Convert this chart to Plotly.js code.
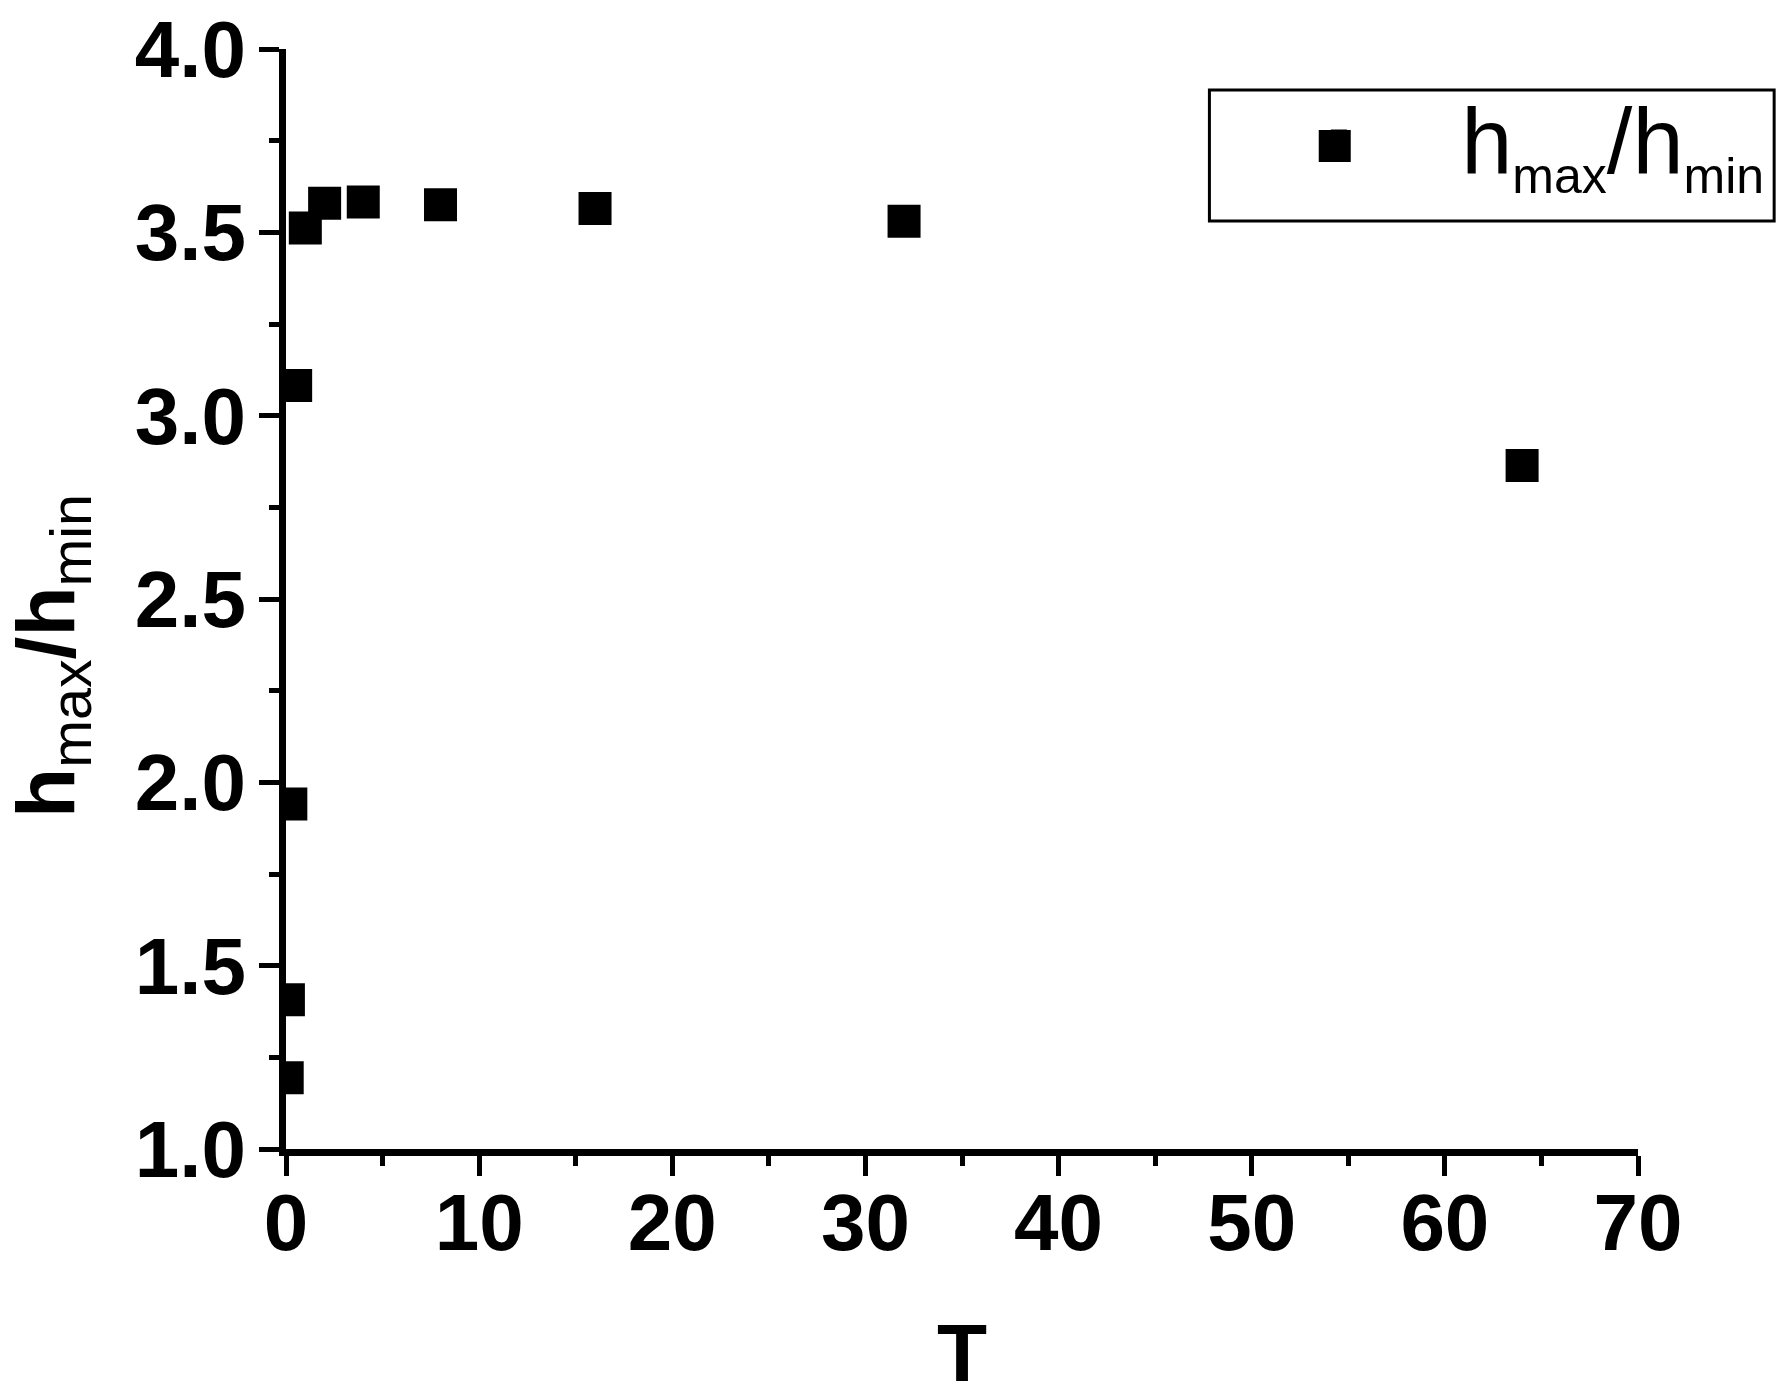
<!DOCTYPE html>
<html>
<head>
<meta charset="utf-8">
<script src="https://cdn.plot.ly/plotly-3.0.1.min.js"></script>
<style>html,body{margin:0;padding:0;background:#fff;}</style>
</head>
<body>
<div id="chart" style="width:1788px;height:1400px;"></div>
<script>
// Data
const T = [0.0625, 0.125, 0.25, 0.5, 1, 2, 4, 8, 16, 32, 64];
const ratio = [1.194, 1.407, 1.941, 3.082, 3.512, 3.579, 3.583, 3.575, 3.565, 3.530, 2.864];
const seriesName = "h<sub><span style=\"font-size:50px\">max</span></sub>/h<sub><span style=\"font-size:50px\">min</span></sub>";
const xTitle = "T";
const yTitle = "<b>h</b><sub>max</sub><b>/h</b><sub>min</sub>";

const FONT = "Liberation Sans, Arial, sans-serif";
const NB = "\u00A0";
const ZW = "\u200B";

const trace = {
  x: T,
  y: ratio,
  type: "scatter",
  mode: "markers",
  name: NB.repeat(4) + seriesName,
  marker: {symbol: "square", size: 33, color: "#000", line: {width: 0}},
  cliponaxis: true
};

const axisCommon = {
  showgrid: false,
  zeroline: false,
  showline: true,
  linecolor: "#000",
  linewidth: 7,
  ticks: "outside",
  ticklen: 20,
  tickwidth: 5,
  tickcolor: "#000",
  tickfont: {family: FONT, size: 80, color: "#000", weight: "bold"},
  mirror: false
};

const layout = {
  width: 1788,
  height: 1400,
  paper_bgcolor: "#fff",
  plot_bgcolor: "#fff",
  font: {family: FONT, color: "#000"},
  margin: {l: 286, r: 150, t: 49, b: 251, pad: 0},
  showlegend: true,
  legend: {
    x: 0.764, xanchor: "left",
    y: 0.9193, yanchor: "middle",
    bgcolor: "rgba(0,0,0,0)",
    borderwidth: 0,
    font: {family: FONT, size: 92, color: "#000"}
  },
  xaxis: Object.assign({}, axisCommon, {
    range: [0, 70],
    tickmode: "linear", tick0: 0, dtick: 10,
    ticklabelstandoff: -22,
    minor: {ticks: "outside", ticklen: 10, tickwidth: 5, tickcolor: "#000", dtick: 5, tick0: 0, showgrid: false},
    title: {text: "<b>" + xTitle + "</b>", font: {family: FONT, size: 82, color: "#000"}, standoff: 60}
  }),
  yaxis: Object.assign({}, axisCommon, {
    range: [1, 4],
    tickmode: "linear", tick0: 1, dtick: 0.5,
    tickformat: ".1f",
    ticklabelstandoff: -3,
    minor: {ticks: "outside", ticklen: 10, tickwidth: 5, tickcolor: "#000", dtick: 0.25, tick0: 1, showgrid: false},
    title: {text: yTitle + NB.repeat(5) + ZW, font: {family: FONT, size: 82, color: "#000"}, standoff: 38}
  }),
  shapes: [
    {
      type: "rect", xref: "paper", yref: "paper",
      x0: 0.683, x1: 1.1007, y0: 0.8436, y1: 0.9627,
      line: {color: "#000", width: 3}, fillcolor: "rgba(0,0,0,0)"
    },
    {
      // enlarges the legend's square symbol to the reference size
      type: "rect", xref: "paper", yref: "paper",
      xsizemode: "pixel", ysizemode: "pixel",
      xanchor: 0.7757, yanchor: 0.9118,
      x0: -16, x1: 16, y0: -16, y1: 16,
      line: {width: 0}, fillcolor: "#000", layer: "above"
    }
  ]
};

Plotly.newPlot("chart", [trace], layout, {displayModeBar: false, staticPlot: true});
</script>
</body>
</html>
